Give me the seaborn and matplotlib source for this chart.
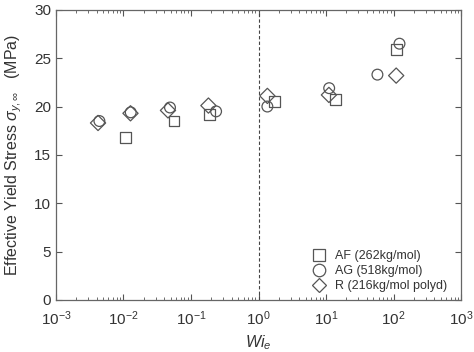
import numpy as np
import pandas as pd
import matplotlib
matplotlib.use('Agg')
import matplotlib.pyplot as plt
import matplotlib.ticker as mticker
import seaborn as sns
from matplotlib.lines import Line2D

# data
af_wi = [0.0108, 0.0558, 0.186, 1.70, 13.6, 109]
af_sy = [16.8, 18.5, 19.2, 20.5, 20.7, 25.9]

ag_wi = [0.0044, 0.0128, 0.0488, 0.235, 1.35, 11.1, 57.5, 122]
ag_sy = [18.5, 19.4, 19.9, 19.5, 20.0, 21.9, 23.3, 26.5]

r_wi = [0.0042, 0.0127, 0.0456, 0.181, 1.35, 11.0, 109]
r_sy = [18.3, 19.3, 19.6, 20.1, 21.1, 21.2, 23.2]

labels = ['AF (262kg/mol)', 'AG (518kg/mol)', 'R (216kg/mol polyd)']
xticks = [1e-3, 1e-2, 1e-1, 1e0, 1e1, 1e2, 1e3]
xticklabels = [r'$10^{-3}$', r'$10^{-2}$', r'$10^{-1}$', r'$10^{0}$',
               r'$10^{1}$', r'$10^{2}$', r'$10^{3}$']

df = pd.concat([
    pd.DataFrame({'Wi': af_wi, 'sy': af_sy, 'sample': labels[0]}),
    pd.DataFrame({'Wi': ag_wi, 'sy': ag_sy, 'sample': labels[1]}),
    pd.DataFrame({'Wi': r_wi, 'sy': r_sy, 'sample': labels[2]}),
])

sns.set_style('ticks')
plt.rcParams['font.family'] = ['Liberation Sans', 'DejaVu Sans']
plt.rcParams['mathtext.fontset'] = 'custom'
plt.rcParams['mathtext.it'] = 'Liberation Sans:italic'
plt.rcParams['mathtext.rm'] = 'Liberation Sans'
txt = '#333333'
mk = '#555555'

fig = plt.figure(figsize=(4.74, 3.52), dpi=100)
ax = fig.add_axes([0.118, 0.148, 0.855, 0.824])

sns.scatterplot(data=df, x='Wi', y='sy', style='sample',
                markers={labels[0]: 's', labels[1]: 'o', labels[2]: 'D'},
                s=60, ax=ax, legend=False)
# open markers
for coll in ax.collections:
    coll.set_facecolor('none')
    coll.set_edgecolor(mk)
    coll.set_linewidth(0.9)

ax.axvline(1, color='#444444', linestyle=(0, (3, 2)), linewidth=0.8)

ax.set_xscale('log')
ax.set_xlim(1e-3, 1e3)
ax.set_ylim(0, 30)
ax.set_xticks(xticks, xticklabels)
ax.xaxis.set_minor_locator(mticker.LogLocator(base=10, subs=np.arange(2, 10)))
ax.xaxis.set_minor_formatter(mticker.NullFormatter())
ax.set_yticks(np.arange(0, 31, 5))
ax.tick_params(which='both', direction='in', top=True, right=True,
               colors='#555555', labelcolor=txt, labelsize=11)
ax.tick_params(which='major', length=4)
ax.tick_params(which='minor', length=2.5)
ax.tick_params(axis='x', pad=7)
for sp in ax.spines.values():
    sp.set_color('#666666')
    sp.set_linewidth(0.9)

ax.set_xlabel(r'$Wi_e$', color=txt, fontsize=11.5)
ax.xaxis.set_label_coords(0.5, -0.115)
ax.set_ylabel(r'Effective Yield Stress $\sigma_{y,\infty}$   (MPa)', color=txt, fontsize=11.5)
ax.yaxis.set_label_coords(-0.08, 0.5)

# legend
handles = [Line2D([], [], marker=m, linestyle='none', markerfacecolor='none',
                  markeredgecolor=mk, markersize=ms, markeredgewidth=0.9)
           for m, ms in zip(['s', 'o', 'D'], [8, 9, 7.5])]
ax.legend(handles, labels, loc='lower right', frameon=False, fontsize=9,
          labelcolor=txt, handletextpad=0.6, borderaxespad=0.2,
          labelspacing=0.25, handlelength=1.5, bbox_to_anchor=(0.985, 0.0))

fig.savefig('out.png', dpi=100)
